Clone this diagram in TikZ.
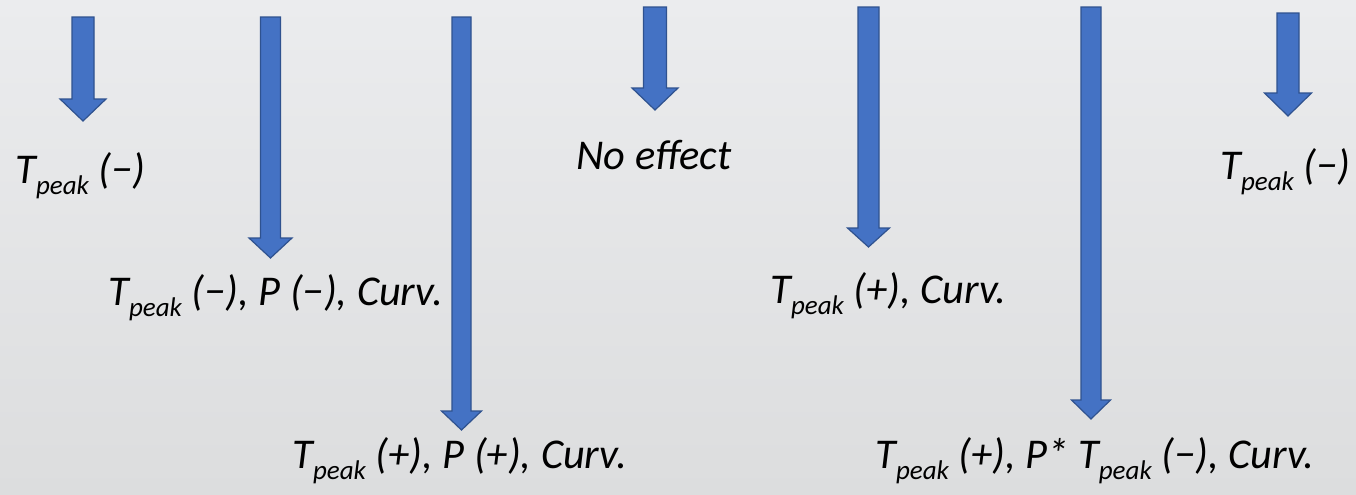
\documentclass[tikz,border=0pt]{standalone}
\usepackage{fontspec}
\setmainfont{Carlito}
\usepackage{tikz}
\usetikzlibrary{positioning}
\usepackage{xcolor}

\definecolor{arrowblue}{HTML}{4472C4}
\definecolor{arrowedge}{HTML}{2F528F}
\definecolor{bgtop}{HTML}{EBECEE}
\definecolor{bgbot}{HTML}{DCDDDE}

\newcommand{\Tpeak}{T\raisebox{-5.5pt}{\fontsize{13.5}{15}\selectfont peak}}

\begin{document}
\begin{tikzpicture}[x=0.5pt,y=-0.5pt,
    effect/.style={font=\fontsize{21.2}{25}\selectfont\itshape,inner sep=0pt,anchor=base west},
    downarrow/.style={fill=arrowblue,draw=arrowedge,line width=0.6pt,line join=miter}]

% Fond
\shade[top color=bgtop,bottom color=bgbot] (0,0) rectangle (1356,494);
\useasboundingbox (0,0) rectangle (1356,494);

% Fleches
\foreach \n/\cx/\top/\tip/\sw/\hw/\hl in {1/83/17/121/11/23/22,
    2/270.5/17/258/10/21.5/20, 3/461.5/17/430/9.5/20/19,
    4/655/7/110/11.5/23/22, 5/868.5/7/247/10.5/21/19,
    6/1091/7/419/10/19.5/19, 7/1288/13/116/11/23.5/23} {
    \draw[downarrow] (\cx-\sw,\top) -- (\cx+\sw,\top) -- (\cx+\sw,\tip-\hl)
        -- (\cx+\hw,\tip-\hl) -- (\cx,\tip) -- (\cx-\hw,\tip-\hl)
        -- (\cx-\sw,\tip-\hl) -- cycle;
}

% Effets
\node[effect] (eff1) at (15,183) {\Tpeak{} (−)};
\node[effect] (eff2) at (108,305) {\Tpeak{} (−), P (−), Curv.};
\node[effect] (eff3) at (292,468) {\Tpeak{} (+), P (+), Curv.};
\node[effect] (eff4) at (576,169) {No effect};
\node[effect] (eff5) at (770,303) {\Tpeak{} (+), Curv.};
\node[effect] (eff6) at (875,468) {\Tpeak{} (+), P* \Tpeak{} (−), Curv.};
\node[effect] (eff7) at (1220,179) {\Tpeak{} (−)};

\end{tikzpicture}
\end{document}
